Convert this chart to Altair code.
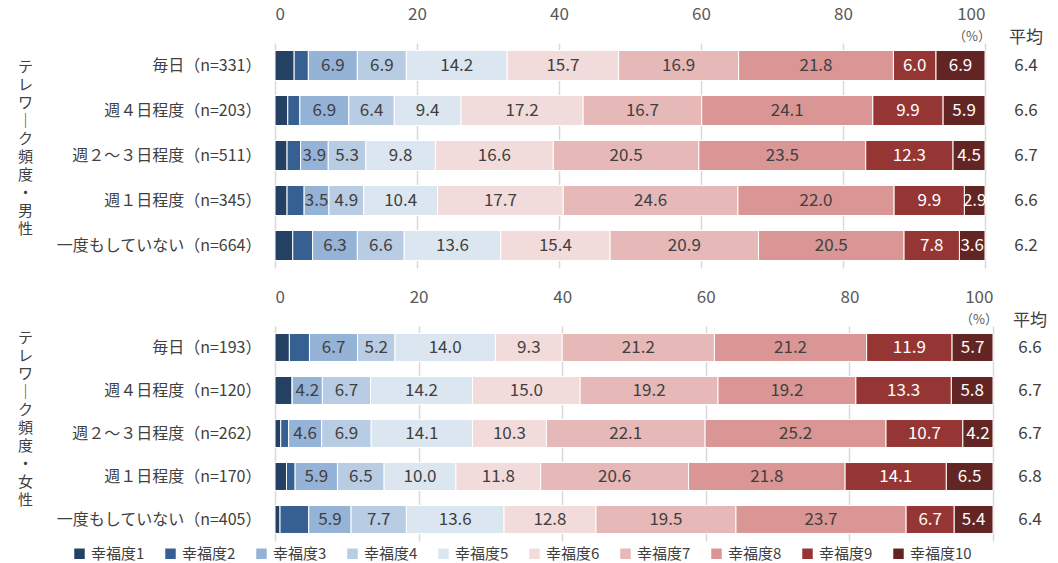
import altair as alt
import pandas as pd

FONT = "Noto Sans CJK JP"

levels = ["幸福度1", "幸福度2", "幸福度3", "幸福度4", "幸福度5",
          "幸福度6", "幸福度7", "幸福度8", "幸福度9", "幸福度10"]
colors = ["#244062", "#366092", "#95B3D7", "#B8CCE4", "#DCE6F1",
          "#F2DCDB", "#E6B8B7", "#DA9694", "#963634", "#632523"]

male_cats = ["毎日（n=331）", "週４日程度（n=203）", "週２～３日程度（n=511）",
             "週１日程度（n=345）", "一度もしていない（n=664）"]
male_vals = [
    [2.7, 2.0, 6.9, 6.9, 14.2, 15.7, 16.9, 21.8, 6.0, 6.9],
    [1.8, 1.7, 6.9, 6.4, 9.4, 17.2, 16.7, 24.1, 9.9, 5.9],
    [1.7, 1.9, 3.9, 5.3, 9.8, 16.6, 20.5, 23.5, 12.3, 4.5],
    [1.7, 2.4, 3.5, 4.9, 10.4, 17.7, 24.6, 22.0, 9.9, 2.9],
    [2.5, 2.8, 6.3, 6.6, 13.6, 15.4, 20.9, 20.5, 7.8, 3.6],
]
male_means = [6.4, 6.6, 6.7, 6.6, 6.2]
male_title = ["テ", "レ", "ワ", "｜", "ク", "頻", "度", "・", "男", "性"]

female_cats = ["毎日（n=193）", "週４日程度（n=120）", "週２～３日程度（n=262）",
               "週１日程度（n=170）", "一度もしていない（n=405）"]
female_vals = [
    [2.0, 2.8, 6.7, 5.2, 14.0, 9.3, 21.2, 21.2, 11.9, 5.7],
    [2.4, 0.0, 4.2, 6.7, 14.2, 15.0, 19.2, 19.2, 13.3, 5.8],
    [0.8, 1.1, 4.6, 6.9, 14.1, 10.3, 22.1, 25.2, 10.7, 4.2],
    [1.6, 1.2, 5.9, 6.5, 10.0, 11.8, 20.6, 21.8, 14.1, 6.5],
    [0.7, 4.0, 5.9, 7.7, 13.6, 12.8, 19.5, 23.7, 6.7, 5.4],
]
female_means = [6.6, 6.7, 6.7, 6.8, 6.4]
female_title = ["テ", "レ", "ワ", "｜", "ク", "頻", "度", "・", "女", "性"]

x_ticks = [0, 20, 40, 60, 80, 100]
mean_header = "平均"
pct_label = "（%）"


def long_df(cats, vals):
    rows = []
    for c, vs in zip(cats, vals):
        for i, v in enumerate(vs):
            rows.append({"cat": c, "level": levels[i], "idx": i + 1, "value": v})
    return pd.DataFrame(rows)


def panel(cats, vals, means, title_lines, width, height, pad_inner, title_y,
          mean_dx, pct_dx, pct_dy):
    df = long_df(cats, vals)
    xsc = alt.Scale(domain=[0, 100], nice=False)
    ysc = alt.Scale(domain=cats, paddingInner=pad_inner, paddingOuter=pad_inner / 2)
    xaxis = alt.Axis(orient="top", values=x_ticks, title=None, ticks=False,
                     domain=False, grid=True, gridColor="#d9d9d9", gridWidth=1.5,
                     labelFontSize=17, labelColor="#595959", labelPadding=20,
                     labelFont=FONT)
    yaxis = alt.Axis(title=title_lines, titleAngle=0, titleAlign="center",
                     titleBaseline="top", titleX=-250, titleY=title_y,
                     titleFontSize=15, titleLineHeight=18, titleColor="#404040",
                     titleFontWeight="normal", titleFont=FONT,
                     ticks=False, domain=False, grid=False, labelLimit=400,
                     labelFontSize=16, labelColor="#404040", labelPadding=14,
                     labelFont=FONT)
    base = alt.Chart(df)
    bars = base.mark_bar(stroke="white", strokeWidth=1).encode(
        x=alt.X("value:Q", stack="zero", scale=xsc, axis=xaxis),
        y=alt.Y("cat:N", sort=cats, scale=ysc, axis=yaxis),
        color=alt.Color("level:N", scale=alt.Scale(domain=levels, range=colors),
                        legend=alt.Legend(orient="none", legendX=-203, legendY=503,
                                          direction="horizontal", title=None,
                                          symbolType="square", symbolSize=110,
                                          symbolStrokeWidth=0, labelFontSize=15,
                                          labelColor="#404040", labelFont=FONT,
                                          columnPadding=18, labelOffset=4)),
        order=alt.Order("idx:Q"),
    )
    labels = base.transform_stack(
        stack="value", groupby=["cat"], as_=["x0", "x1"],
        sort=[alt.SortField("idx", order="ascending")]
    ).transform_calculate(
        mid="(datum.x0 + datum.x1) / 2"
    ).transform_filter(
        "datum.idx >= 3"
    ).mark_text(fontSize=17, font=FONT).encode(
        x=alt.X("mid:Q", scale=xsc, axis=xaxis),
        y=alt.Y("cat:N", sort=cats, scale=ysc, axis=yaxis),
        text=alt.Text("value:Q", format=".1f"),
        color=alt.when(alt.datum.idx >= 9).then(alt.value("white")).otherwise(alt.value("#404040")),
    )
    mdf = pd.DataFrame({"cat": cats, "mean": means})
    mtext = alt.Chart(mdf).mark_text(fontSize=17, font=FONT, color="#404040").encode(
        x=alt.value(width + mean_dx),
        y=alt.Y("cat:N", sort=cats, scale=ysc, axis=yaxis),
        text=alt.Text("mean:Q", format=".1f"),
    )
    header = alt.Chart(pd.DataFrame({"t": [mean_header]})).mark_text(
        fontSize=17, font=FONT, color="#404040").encode(
        x=alt.value(width + mean_dx), y=alt.value(-5), text="t:N")
    pct = alt.Chart(pd.DataFrame({"t": [pct_label]})).mark_text(
        fontSize=13, font=FONT, color="#595959").encode(
        x=alt.value(width + pct_dx), y=alt.value(pct_dy), text="t:N")
    return alt.layer(bars, labels, mtext, header, pct).properties(width=width, height=height)


top = panel(male_cats, male_vals, male_means, male_title, 710, 225, 0.333, 16, 41, -13, -6)
bottom = panel(female_cats, female_vals, female_means, female_title, 718, 215, 0.35, 4, 37, -14, -6)

chart = alt.vconcat(top, bottom, spacing=20).properties(
    padding={"left": 17, "top": 5, "right": 5, "bottom": 0}
).configure(font=FONT).configure_view(stroke=None)

chart.save("out.html", embed_options={"renderer": "svg", "actions": False})
